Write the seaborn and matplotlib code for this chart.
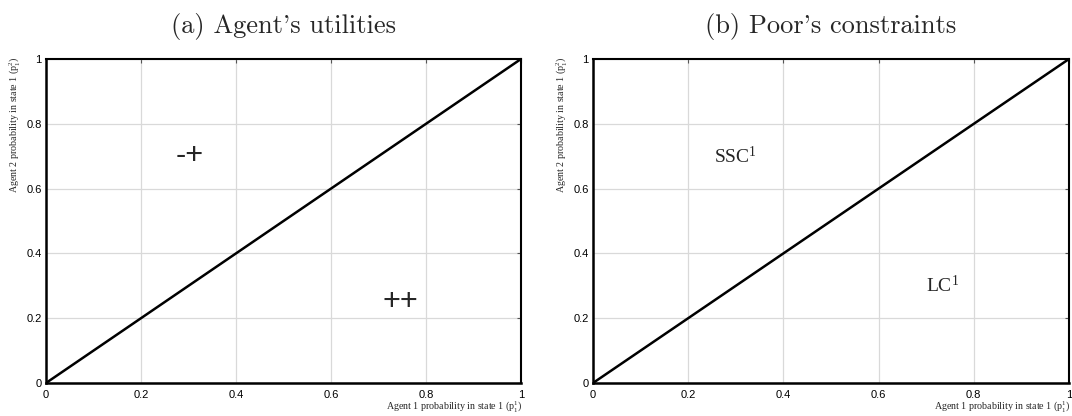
import numpy as np
import pandas as pd
import matplotlib
matplotlib.use("Agg")
import matplotlib.pyplot as plt
import seaborn as sns

# ---- data ----
diag_x = [0.0, 1.0]
diag_y = [0.0, 1.0]
tick_vals = [0, 0.2, 0.4, 0.6, 0.8, 1]
tick_labels = ["0", "0.2", "0.4", "0.6", "0.8", "1"]
titles = ["(a) Agent's utilities", "(b) Poor's constraints"]
xlabel = r"Agent 1 probability in state 1 ($\mathrm{p}_1^1$)"
ylabel = r"Agent 2 probability in state 1 ($\mathrm{p}_1^2$)"
labels_a = ["-+", "++"]
pos_a_x = [0.302, 0.745]
pos_a_y = [0.70, 0.25]
labels_b = [r"SSC$^1$", r"LC$^1$"]
pos_b_x = [0.30, 0.735]
pos_b_y = [0.70, 0.30]

sns.set_style("white")
plt.rcParams["font.family"] = ["Liberation Sans", "DejaVu Sans"]
plt.rcParams["mathtext.fontset"] = "custom"
plt.rcParams["mathtext.rm"] = "Liberation Serif"
plt.rcParams["mathtext.it"] = "Liberation Serif:italic"

df = pd.DataFrame({"x": diag_x, "y": diag_y})

fig = plt.figure(figsize=(10.72, 4.16), dpi=100)
W, H = 1072, 416
ax_boxes = [(46, 59, 521, 383), (593, 59, 1069, 383)]
axes = []
for (l, t, r, b) in ax_boxes:
    axes.append(fig.add_axes([l / W, 1 - b / H, (r - l) / W, (b - t) / H]))

for i, ax in enumerate(axes):
    ax.grid(True, color="#d9d9d9", lw=0.9)
    ax.set_axisbelow(True)
    sns.lineplot(data=df, x="x", y="y", ax=ax, color="black", lw=1.8)
    ax.set_xlim(0, 1)
    ax.set_ylim(0, 1)
    ax.set_xticks(tick_vals)
    ax.set_xticklabels(tick_labels)
    ax.set_yticks(tick_vals)
    ax.set_yticklabels(tick_labels)
    ax.tick_params(direction="in", length=3, width=0.8, labelsize=8,
                   top=True, right=True, colors="#555555", labelcolor="black")
    ax.tick_params(axis="x", pad=5)
    ax.tick_params(axis="y", pad=3)
    for s in ["left", "bottom"]:
        ax.spines[s].set_linewidth(1.8)
        ax.spines[s].set_color("black")
    for s in ["top", "right"]:
        ax.spines[s].set_linewidth(1.5)
        ax.spines[s].set_color("black")
    ax.set_xlabel(xlabel, fontsize=7.2, family="Liberation Serif")
    ax.xaxis.set_label_coords(1.003, -0.072)
    ax.xaxis.label.set_horizontalalignment("right")
    ax.xaxis.label.set_verticalalignment("center")
    ax.set_ylabel(ylabel, fontsize=7.2, family="Liberation Serif")
    ax.yaxis.set_label_coords(-0.065, 1.007)
    ax.yaxis.label.set_verticalalignment("center")
    ax.yaxis.label.set_horizontalalignment("right")
    ax.set_title(titles[i], fontsize=19, family=["cmr10", "DejaVu Serif"], pad=19)

for s, x, y in zip(labels_a, pos_a_x, pos_a_y):
    axes[0].text(x, y, s, fontsize=22, ha="center", va="center",
                 family="Liberation Sans")
for s, x, y in zip(labels_b, pos_b_x, pos_b_y):
    axes[1].text(x, y, s, fontsize=14, ha="center", va="center",
                 family="Liberation Serif")

fig.savefig("out.png", dpi=100)
